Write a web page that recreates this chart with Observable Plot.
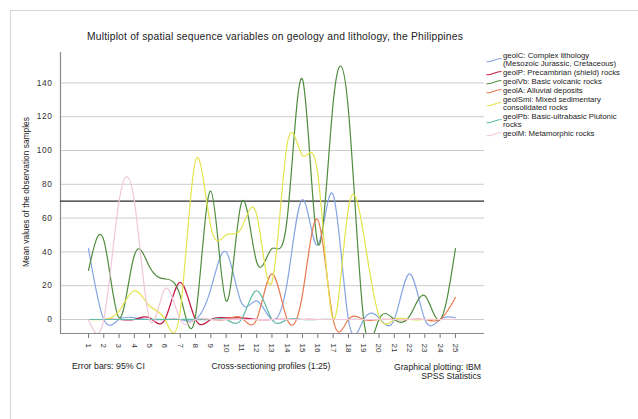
<!DOCTYPE html>
<html>
<head>
<meta charset="utf-8">
<script src="https://cdn.jsdelivr.net/npm/d3@7"></script>
<script src="https://cdn.jsdelivr.net/npm/@observablehq/plot@0.6"></script>
<style>
  html, body { margin: 0; padding: 0; background: #fff; overflow: hidden; }
  #wrap { position: relative; width: 638px; height: 419px; overflow: hidden;
          font-family: "Liberation Sans", Arial, Helvetica, sans-serif; color: #222; }
  #frame { position: absolute; left: 10px; top: 10px; width: 700px; height: 500px;
           border: 1.5px solid #d6d6d6; }
  #chart { position: absolute; left: 0; top: 0; }
  .t { position: absolute; white-space: nowrap; line-height: 1; }
  #title { top: 31.5px; left: 0; width: 550px; text-align: center; font-size: 10.3px; letter-spacing: 0.2px; }
  #ylab { left: 26px; top: 192px; font-size: 8.4px; transform: translate(-50%, -50%) rotate(-90deg); }
  #cap1 { left: 72px; top: 362px; font-size: 8.8px; }
  #cap2 { left: 271px; top: 362px; font-size: 8.6px; transform: translateX(-50%); }
  #cap3 { right: 157px; top: 363px; font-size: 8.6px; text-align: right; line-height: 8.6px; }
  #legend { position: absolute; left: 486px; top: 52px; font-size: 7.8px; }
  .item { position: relative; padding-left: 17px; line-height: 8.1px; margin-bottom: 0.8px; }
  .item svg { position: absolute; left: 0; }
</style>
</head>
<body>
<div id="wrap">
  <div id="frame"></div>
  <div id="chart"></div>
  <div id="title" class="t">Multiplot of spatial sequence variables on geology and lithology, the Philippines</div>
  <div id="ylab" class="t">Mean values of the observation samples</div>
  <div id="cap1" class="t">Error bars: 95% CI</div>
  <div id="cap2" class="t">Cross-sectioning profiles (1:25)</div>
  <div id="cap3" class="t">Graphical plotting: IBM<br>SPSS Statistics</div>
  <div id="legend"></div>
</div>
<script>
// Cross-sectioning profiles along the x axis
const profiles = [1, 2, 3, 4, 5, 6, 7, 8, 9, 10, 11, 12, 13, 14, 15, 16, 17, 18, 19, 20, 21, 22, 23, 24, 25];

// Mean values per profile for each geology / lithology variable
const geolC   = [42, 0, 0, 1, 0, 0, 0, 0, 18, 40, 10, 11, 0, 22, 71, 44, 74, 0, 0, 1, 0, 27, 0, 0, 1];
const geolP   = [0, 0, 0, 0, 1, 0, 22, 0, 0, 1, 1, 0, 0, 0, 0, 0, 0, 0, 0, 0, 0, 0, 0, 0, 0];
const geolVb  = [29, 47, 1, 38, 31, 24, 14, 2, 76, 11, 69, 34, 42, 60, 142, 45, 128, 124, 0, 0, 0, 2, 14, 0, 42];
const geolA   = [0, 0, 0, 0, 0, 0, 0, 0, 0, 0, 1, 0, 27, 0, 15, 59, 0, 0, 0, 0, 0, 0, 0, 0, 13];
const geolSmi = [0, 0, 5, 17, 8, 0, 5, 94, 55, 50, 54, 62, 22, 104, 97, 86, 0, 66, 50, 2, 0, 0, 0, 0, 0];
const geolPb  = [0, 0, 0, 0, 0, 0, 0, 0, 0, 0, 0, 17, 0, 0, 0, 0, 0, 0, 0, 0, 0, 0, 0, 0, 0];
const geolM   = [0, 0, 70, 70, 0, 18, 0, 0, 0, 0, 0, 0, 0, 0, 0, 0, 0, 0, 0, 0, 0, 0, 0, 0, 0];

// Legend entries (one per variable, in drawing order)
const seriesNames = [
  "geolC: Complex lithology (Mesozoic Jurassic, Cretaceous)",
  "geolP: Precambrian (shield) rocks",
  "geolVb: Basic volcanic rocks",
  "geolA: Alluvial deposits",
  "geolSmi: Mixed sedimentary consolidated rocks",
  "geolPb: Basic-ultrabasic Plutonic rocks",
  "geolM: Metamorphic rocks"
];
const legendLines = [
  ["geolC: Complex lithology", "(Mesozoic Jurassic, Cretaceous)"],
  ["geolP: Precambrian (shield) rocks"],
  ["geolVb: Basic volcanic rocks"],
  ["geolA: Alluvial deposits"],
  ["geolSmi: Mixed sedimentary", "consolidated rocks"],
  ["geolPb: Basic-ultrabasic Plutonic", "rocks"],
  ["geolM: Metamorphic rocks"]
];
const seriesColors = ["#85a5e3", "#c41a43", "#4f8c3d", "#e97a4f", "#e5e44c", "#62b9a6", "#f1c7d9"];

// Y axis ticks and the horizontal reference line
const yTicks = [0, 20, 40, 60, 80, 100, 120, 140];
const referenceValue = 70;
const xDomain = [-0.83, 26.9];
const yDomain = [-8.3, 158];

const seriesValues = [geolC, geolP, geolVb, geolA, geolSmi, geolPb, geolM];
const rows = seriesValues.flatMap((vals, s) =>
  vals.map((v, i) => ({series: seriesNames[s], profile: profiles[i], value: v}))
);

const chart = Plot.plot({
  width: 638,
  height: 419,
  marginLeft: 60,
  marginRight: 154,
  marginTop: 52,
  marginBottom: 86,
  style: {fontFamily: "'Liberation Sans', Arial, sans-serif", fontSize: "8.4px", color: "#333", background: "transparent"},
  x: {domain: xDomain},
  y: {domain: yDomain},
  color: {domain: seriesNames, range: seriesColors},
  marks: [
    Plot.gridY(yTicks, {stroke: "#cccccc", strokeOpacity: 1, strokeWidth: 1}),
    Plot.axisY(yTicks, {tickSize: 0, tickPadding: 8, label: null}),
    Plot.axisX(profiles, {tickRotate: 90, tickSize: 5, tickPadding: 5, label: null, stroke: "#777", fontSize: "8px"}),
    Plot.ruleY([yDomain[0]], {stroke: "#8a8a8a", strokeWidth: 1.2}),
    Plot.ruleX([xDomain[0]], {stroke: "#8a8a8a", strokeWidth: 1.2}),
    Plot.ruleY([referenceValue], {stroke: "#2a2a2a", strokeWidth: 1.2}),
    Plot.line(rows, {x: "profile", y: "value", z: "series", stroke: "series",
                     curve: "natural", strokeWidth: 1.2, clip: true})
  ]
});
document.getElementById("chart").appendChild(chart);

// Slightly spaced y tick digits
d3.select(chart).selectAll('[aria-label="y-axis tick label"] text').style("letter-spacing", "0.6px");

// Legend with short curved line samples
const legend = d3.select("#legend");
legendLines.forEach((lines, i) => {
  const item = legend.append("div").attr("class", "item");
  const h = lines.length * 8.1;
  item.append("svg")
    .attr("width", 16).attr("height", 8)
    .style("top", (h / 2 - 4) + "px")
    .append("path")
    .attr("d", "M0.5,5.5 C4,7 9,2.5 15.5,2.5")
    .attr("fill", "none")
    .attr("stroke", seriesColors[i])
    .attr("stroke-width", 1.2);
  item.append("div").html(lines.join("<br>"));
});
</script>
</body>
</html>
